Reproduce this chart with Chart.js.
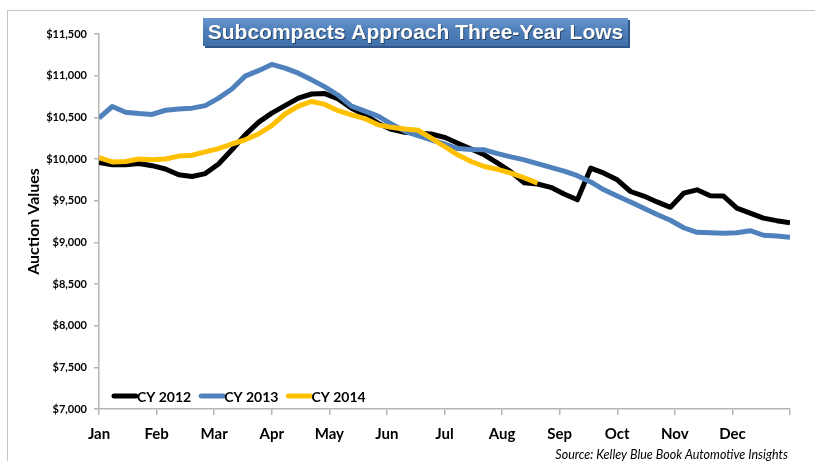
<!DOCTYPE html>
<html>
<head>
<meta charset="utf-8">
<script src="https://cdn.jsdelivr.net/npm/chart.js@4"></script>
<style>
    html, body { margin: 0; padding: 0; background: #ffffff; }
    #wrap { position: relative; width: 815px; height: 461px; overflow: hidden; }
    #frame { position: absolute; left: 7px; top: 10px; width: 820px; height: 470px; border: 1px solid #c4c4c4; }
    #myChart { position: absolute; left: 0; top: 0; }
</style>
</head>
<body>
<div id="wrap">
    <div id="frame"></div>
    <canvas id="myChart" width="815" height="461"></canvas>
</div>
<script>
// Etiquetas del eje X (inicio de cada mes)
var months = ['Jan', 'Feb', 'Mar', 'Apr', 'May', 'Jun', 'Jul', 'Aug', 'Sep', 'Oct', 'Nov', 'Dec'];

// Valores semanales de subasta (semana 0 .. 52)
var cy2012 = [9960, 9930, 9930, 9945, 9920, 9880, 9810, 9790, 9825, 9940,
    10110, 10290, 10440, 10550, 10640, 10730, 10780, 10785, 10720, 10610,
    10530, 10430, 10355, 10320, 10310, 10300, 10260, 10190, 10120, 10050,
    9950, 9845, 9715, 9700, 9660, 9580, 9510, 9890, 9830, 9750,
    9610, 9555, 9485, 9420, 9590, 9630, 9560, 9555, 9410, 9350,
    9290, 9260, 9235];

var cy2013 = [10490, 10630, 10560, 10545, 10535, 10585, 10600, 10610, 10640, 10730,
    10840, 10995, 11060, 11135, 11090, 11030, 10950, 10865, 10765, 10635,
    10575, 10515, 10420, 10335, 10280, 10230, 10180, 10125, 10115, 10110,
    10065, 10025, 9990, 9945, 9900, 9855, 9800, 9725, 9630, 9555,
    9485, 9410, 9335, 9265, 9175, 9120, 9115, 9110, 9115, 9140,
    9085, 9075, 9060];

var cy2014 = [10015, 9965, 9970, 10000, 9990, 10000, 10035, 10045, 10085, 10125,
    10180, 10230, 10300, 10400, 10540, 10635, 10690, 10655, 10580, 10530,
    10485, 10410, 10380, 10360, 10345, 10250, 10150, 10050, 9970, 9910,
    9875, 9830, 9775, 9710];

var seriesNames = ['CY 2012', 'CY 2013', 'CY 2014'];
var seriesColors = ['#000000', '#4f81bd', '#ffc000'];

var titleText = 'Subcompacts Approach Three-Year Lows';
var sourceText = 'Source: Kelley Blue Book Automotive Insights';

var weeksPerYear = 52;

// Convierte la lista semanal en puntos {x: mes, y: valor}
function toPoints(values) {
    return values.map(function (v, i) {
        return { x: i * 12 / weeksPerYear, y: v };
    });
}

// Plugin para el título con recuadro, la leyenda interior y la fuente
var decorPlugin = {
    id: 'decor',
    afterDraw: function (chart) {
        var c = chart.ctx;
        c.save();

        // Recuadro azul del título
        var bx = 203, by = 18, bw = 425, bh = 28;
        var grad = c.createLinearGradient(0, by, 0, by + bh);
        grad.addColorStop(0, '#6a95cd');
        grad.addColorStop(0.45, '#4e7fba');
        grad.addColorStop(1, '#416fa8');
        c.fillStyle = '#30558a';
        c.fillRect(bx + 2, by + 2, bw, bh);
        c.fillStyle = grad;
        c.fillRect(bx, by, bw, bh);
        c.font = 'bold 21px "Liberation Sans", Arial, sans-serif';
        c.textAlign = 'center';
        c.textBaseline = 'middle';
        c.fillStyle = 'rgba(0,0,0,0.45)';
        c.fillText(titleText, bx + bw / 2 + 1, by + bh / 2 + 2);
        c.fillStyle = '#ffffff';
        c.fillText(titleText, bx + bw / 2, by + bh / 2 + 1);

        // Leyenda dentro del área del gráfico
        var lx = 112, ly = 396;
        c.font = 'bold 14px Lato, sans-serif';
        c.textAlign = 'left';
        c.textBaseline = 'middle';
        chart.data.datasets.forEach(function (ds) {
            c.strokeStyle = ds.borderColor;
            c.lineWidth = 5;
            c.lineCap = 'round';
            c.beginPath();
            c.moveTo(lx + 2, ly);
            c.lineTo(lx + 24, ly);
            c.stroke();
            c.fillStyle = '#000000';
            c.fillText(ds.label, lx + 25, ly + 1);
            lx += 25 + c.measureText(ds.label).width + 8;
        });

        // Texto de la fuente
        c.font = 'italic 12.5px Lato, sans-serif';
        c.textAlign = 'right';
        c.fillStyle = '#000000';
        c.fillText(sourceText, 788, 455);

        c.restore();
    }
};

document.addEventListener('DOMContentLoaded', function () {
    var ctx = document.getElementById('myChart').getContext('2d');

    var allSeries = [cy2012, cy2013, cy2014];

    var myChart = new Chart(ctx, {
        type: 'line',
        data: {
            datasets: allSeries.map(function (values, k) {
                return {
                    label: seriesNames[k],
                    data: toPoints(values),
                    borderColor: seriesColors[k],
                    backgroundColor: seriesColors[k],
                    borderWidth: 5,
                    borderJoinStyle: 'round',
                    pointRadius: 0,
                    fill: false,
                    tension: 0,
                    order: 2 - k
                };
            })
        },
        options: {
            responsive: false,
            animation: false,
            layout: {
                padding: { left: 24, top: 34, right: 25, bottom: 0 }
            },
            plugins: {
                legend: { display: false },
                tooltip: { enabled: false },
                title: { display: false }
            },
            scales: {
                x: {
                    type: 'linear',
                    min: 0,
                    max: 12,
                    afterFit: function (scale) { scale.height = 52; },
                    border: { display: true, color: '#b5b5b5', width: 1.5 },
                    grid: {
                        display: true,
                        drawOnChartArea: false,
                        drawTicks: true,
                        tickLength: 6,
                        color: '#b5b5b5',
                        lineWidth: 1.5
                    },
                    ticks: {
                        stepSize: 1,
                        autoSkip: false,
                        maxRotation: 0,
                        padding: 10,
                        color: '#000000',
                        font: { family: 'Lato', size: 15, weight: 'bold' },
                        callback: function (value) {
                            return months[value] || '';
                        }
                    }
                },
                y: {
                    min: 7000,
                    max: 11500,
                    afterFit: function (scale) { scale.width = 75; },
                    border: { display: true, color: '#b5b5b5', width: 1.5 },
                    grid: {
                        display: true,
                        drawOnChartArea: false,
                        drawTicks: true,
                        tickLength: 5,
                        color: '#b5b5b5',
                        lineWidth: 1.5
                    },
                    title: {
                        display: true,
                        text: 'Auction Values',
                        color: '#000000',
                        padding: { top: 0, bottom: 0 },
                        font: { family: 'Lato', size: 16, weight: 'bold' }
                    },
                    ticks: {
                        stepSize: 500,
                        padding: 7,
                        color: '#000000',
                        font: { family: 'Lato', size: 11, weight: 'bold' },
                        callback: function (value) {
                            return '$' + value.toLocaleString('en-US');
                        }
                    }
                }
            }
        },
        plugins: [decorPlugin]
    });
});
</script>
</body>
</html>
